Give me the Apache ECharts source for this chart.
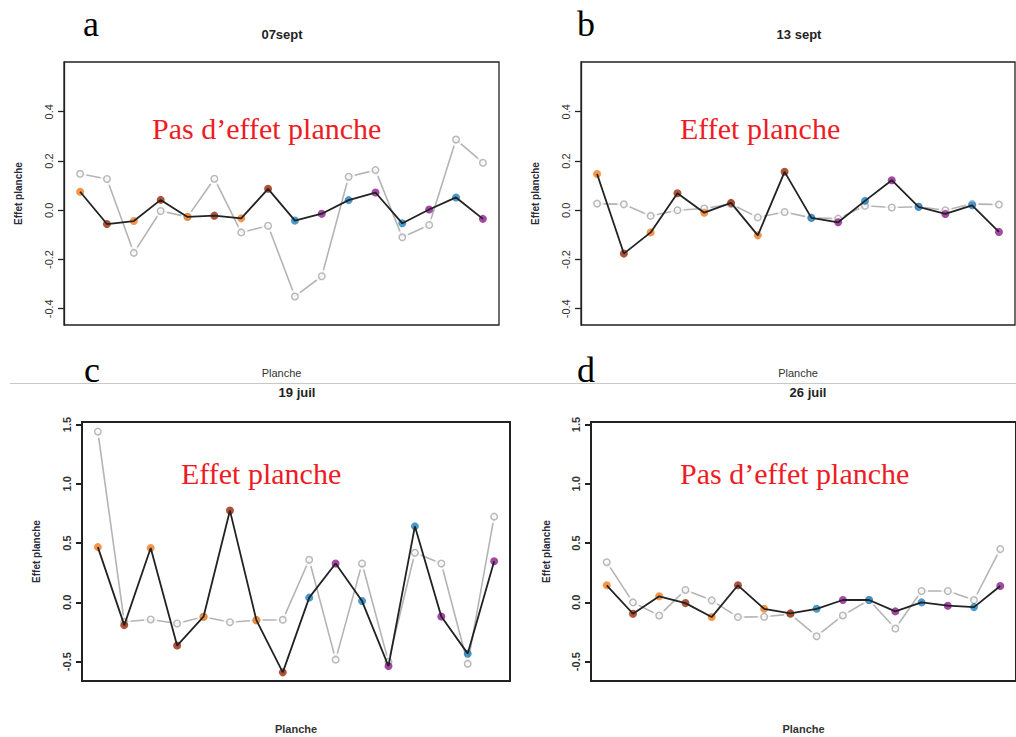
<!DOCTYPE html>
<html><head><meta charset="utf-8">
<script src="https://cdn.jsdelivr.net/npm/echarts@6/dist/echarts.min.js"></script>
<style>html,body{margin:0;padding:0;background:#fff}#c{width:1016px;height:737px}</style>
</head><body><div id="c"></div>
<script>
// ---------- data ----------
const planches = [1,2,3,4,5,6,7,8,9,10,11,12,13,14,15,16];
const titles = ['07sept', '13 sept', '19 juil', '26 juil'];
const letters = ['a', 'b', 'c', 'd'];
const notes = ['Pas d\u2019effet planche', 'Effet planche', 'Effet planche', 'Pas d\u2019effet planche'];
const yTicksSept = [-0.4, -0.2, 0.0, 0.2, 0.4];
const yTicksJuil = [-0.5, 0.0, 0.5, 1.0, 1.5];

const sept07Black = [0.075,-0.056,-0.044,0.042,-0.027,-0.022,-0.033,0.087,-0.042,-0.014,0.041,0.072,-0.053,0.003,0.052,-0.035];
const sept07Gray  = [0.148,0.127,-0.173,-0.003,-0.027,0.128,-0.090,-0.063,-0.350,-0.268,0.136,0.163,-0.110,-0.060,0.287,0.193];
const sept13Black = [0.147,-0.176,-0.090,0.069,-0.010,0.030,-0.102,0.156,-0.031,-0.049,0.038,0.122,0.014,-0.015,0.020,-0.088];
const sept13Gray  = [0.027,0.024,-0.023,0.000,0.007,0.025,-0.029,-0.007,-0.031,-0.034,0.018,0.011,0.014,0.000,0.026,0.023];
const juil19Black = [0.466,-0.192,0.458,-0.364,-0.121,0.774,-0.150,-0.590,0.040,0.328,0.011,-0.537,0.641,-0.119,-0.432,0.347];
const juil19Gray  = [1.440,-0.164,-0.144,-0.178,-0.121,-0.167,-0.150,-0.147,0.359,-0.483,0.328,-0.500,0.418,0.328,-0.517,0.723];
const juil26Black = [0.144,-0.096,0.051,-0.006,-0.124,0.144,-0.054,-0.093,-0.054,0.020,0.020,-0.076,0.000,-0.028,-0.040,0.138];
const juil26Gray  = [0.339,0.000,-0.110,0.105,0.017,-0.124,-0.121,-0.099,-0.285,-0.110,0.020,-0.220,0.096,0.096,0.020,0.449];

// ---------- style ----------
const C_OR = '#f07c1e', C_DR = '#9a2806', C_BL = '#1b7fc0', C_PU = '#8c1a8c';
const markerColors = [C_OR,C_DR,C_OR,C_DR,C_OR,C_DR,C_OR,C_DR,C_BL,C_PU,C_BL,C_PU,C_BL,C_PU,C_BL,C_PU];

const panels = [
  {black: sept07Black, gray: sept07Gray, ticks: yTicksSept, ymin: -0.466, ymax: 0.602,
   grid: {left: 64, top: 62, width: 435, height: 263}, bw: 1.3, bold: 'normal',
   title: [282, 34], letter: [91, 42], note: [152, 128], nameGap: 41},
  {black: sept13Black, gray: sept13Gray, ticks: yTicksSept, ymin: -0.466, ymax: 0.602,
   grid: {left: 581, top: 62, width: 434, height: 263}, bw: 1.3, bold: 'normal',
   title: [799, 34], letter: [586, 42], note: [680, 128], nameGap: 41},
  {black: juil19Black, gray: juil19Gray, ticks: yTicksJuil, ymin: -0.663, ymax: 1.521,
   grid: {left: 82, top: 422, width: 428, height: 259}, bw: 2, bold: 'bold',
   title: [297, 392], letter: [92, 388], note: [181, 473], nameGap: 41},
  {black: juil26Black, gray: juil26Gray, ticks: yTicksJuil, ymin: -0.663, ymax: 1.521,
   grid: {left: 591, top: 422, width: 428, height: 259}, bw: 2, bold: 'bold',
   title: [808, 392], letter: [586, 388], note: [680, 473], nameGap: 40}
];

const grids = [], xAxes = [], yAxes = [], series = [], graphics = [];
panels.forEach((p, k) => {
  grids.push(Object.assign({show: true, borderColor: '#222', borderWidth: p.bw, backgroundColor: 'transparent'}, p.grid));
  xAxes.push({type: 'value', gridIndex: k, min: -0.6, max: 15.6,
    axisLine: {show: false, onZero: false}, axisTick: {show: false}, axisLabel: {show: false}, splitLine: {show: false},
    name: 'Planche', nameLocation: 'middle', nameGap: 42,
    nameTextStyle: {fontFamily: 'Liberation Sans', fontSize: 11, color: '#333', fontWeight: p.bold}});
  yAxes.push({type: 'value', gridIndex: k, min: p.ymin, max: p.ymax,
    axisLine: {show: true, onZero: false, lineStyle: {color: '#222', width: p.bw}},
    axisTick: {show: true, length: 6, customValues: p.ticks, lineStyle: {color: '#222', width: p.bw}},
    axisLabel: {customValues: p.ticks, rotate: 90, margin: 10, fontFamily: 'Liberation Sans', fontSize: 11,
      color: '#333', fontWeight: p.bold, formatter: v => v.toFixed(1)},
    splitLine: {show: false},
    name: 'Effet planche', nameLocation: 'middle', nameGap: p.nameGap, nameRotate: 90,
    nameTextStyle: {fontFamily: 'Liberation Sans', fontSize: 10, color: '#2a2a3a', fontWeight: 'bold'}});

  const grayPts = p.gray.map((v, i) => [planches[i] - 1, v]);
  const blackPts = p.black.map((v, i) => ({value: [planches[i] - 1, v], itemStyle: {color: markerColors[i]}}));
  series.push({type: 'line', xAxisIndex: k, yAxisIndex: k, data: grayPts, symbol: 'none', z: 1,
    lineStyle: {color: '#b4b4b4', width: 1.6}, silent: true});
  series.push({type: 'scatter', xAxisIndex: k, yAxisIndex: k, data: grayPts, symbol: 'circle', symbolSize: 13, z: 2,
    itemStyle: {color: '#ffffff'}, silent: true});
  series.push({type: 'scatter', xAxisIndex: k, yAxisIndex: k, data: grayPts, symbol: 'circle', symbolSize: 6.5, z: 3,
    itemStyle: {color: 'rgba(255,255,255,0)', borderColor: '#a8a8a8', borderWidth: 1.5}, silent: true});
  series.push({type: 'scatter', xAxisIndex: k, yAxisIndex: k, data: blackPts, symbol: 'circle', symbolSize: 8, z: 4, silent: true});
  series.push({type: 'line', xAxisIndex: k, yAxisIndex: k, data: blackPts.map(d => d.value), symbol: 'none', z: 5,
    lineStyle: {color: '#222', width: 1.8}, silent: true});

  graphics.push({type: 'text', x: p.title[0], y: p.title[1], z: 10,
    style: {text: titles[k], font: 'bold 13px "Liberation Sans"', fill: '#222', textAlign: 'center', textVerticalAlign: 'middle'}});
  graphics.push({type: 'text', x: p.letter[0], y: p.letter[1], z: 10,
    style: {text: letters[k], font: '36px "Liberation Serif"', fill: '#000', textAlign: 'center', textVerticalAlign: 'bottom'}});
  graphics.push({type: 'text', x: p.note[0], y: p.note[1], z: 10,
    style: {text: notes[k], font: '30px "Liberation Serif"', fill: '#ee1c25', textAlign: 'left', textVerticalAlign: 'middle'}});
});
graphics.push({type: 'line', z: 0, shape: {x1: 10, y1: 383.5, x2: 1016, y2: 383.5}, style: {stroke: '#c8c8c8', lineWidth: 1}});

const chart = echarts.init(document.getElementById('c'), null, {renderer: 'svg'});
chart.setOption({animation: false, backgroundColor: '#fff', grid: grids, xAxis: xAxes, yAxis: yAxes, series: series, graphic: graphics});
</script></body></html>
